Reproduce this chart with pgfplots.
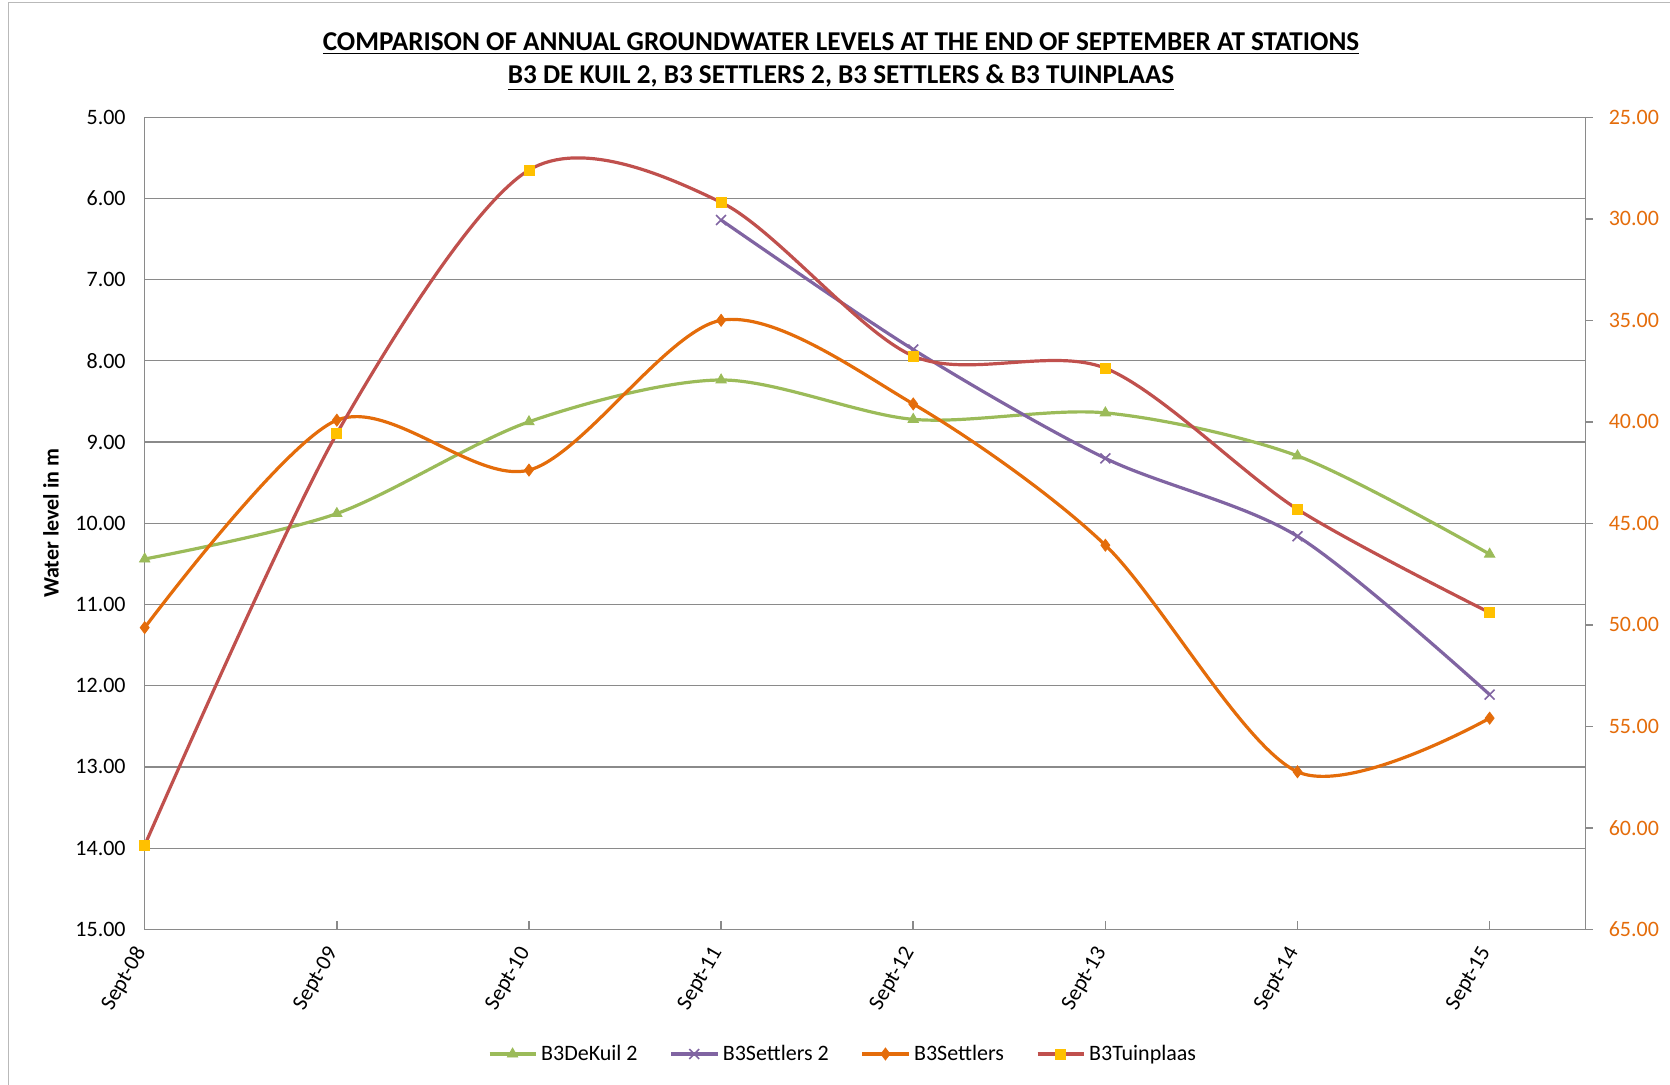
\documentclass[border=0pt]{standalone}
\usepackage{fontspec}
\setmainfont{Carlito}
\usepackage{pgfplots}
\pgfplotsset{compat=1.18}

\definecolor{cgreen}{HTML}{9BBB59}
\definecolor{cpurple}{HTML}{8064A2}
\definecolor{corange}{HTML}{E46C0A}
\definecolor{cred}{HTML}{C0504D}
\definecolor{cyellow}{HTML}{FFC000}
\definecolor{cgrid}{HTML}{8A8A8A}

\pgfplotsset{
  basestyle/.style={
    scale only axis, width=720.5pt, height=406pt,
    at={(72.35pt,77.85pt)}, anchor=south west,
    xmin=0, xmax=7.5, y dir=reverse, clip=false,
    /pgf/number format/.cd, fixed, fixed zerofill, precision=2, assume math mode=true,
    /pgfplots/.cd,
    yticklabel style={font=\fontsize{11}{13}\selectfont},
  },
  serstyle/.style={line width=1.6pt, smooth},
}

\begin{document}
\begin{tikzpicture}
\useasboundingbox (0,0) rectangle (835pt,542.5pt);
\draw[gray!55, line width=0.8pt] (4.25pt,-2pt) -- (4.25pt,541.3pt) -- (840pt,541.3pt);
\node[align=center, font=\fontsize{13.6}{16.5}\selectfont\bfseries] at (420.5pt,511.6pt)
  {\underline{COMPARISON OF ANNUAL GROUNDWATER LEVELS AT THE END OF SEPTEMBER AT STATIONS}\\
   \underline{B3 DE KUIL 2, B3 SETTLERS 2, B3 SETTLERS \& B3 TUINPLAAS}};

\begin{axis}[basestyle,
  ymin=5, ymax=15, ytick={5,6,...,15},
  ymajorgrids, grid style={cgrid, line width=0.6pt},
  axis line style={cgrid, line width=0.75pt},
  xtick={0,...,7},
  xticklabels={Sept-08,Sept-09,Sept-10,Sept-11,Sept-12,Sept-13,Sept-14,Sept-15},
  xtick pos=bottom, ytick pos=left,
  tick align=inside, major tick length=4pt,
  xtick style={cgrid, line width=0.75pt},
  ytick style={draw=none},
  xticklabel style={rotate=60, anchor=east, font=\fontsize{11}{13}\selectfont},
  xticklabel shift=7pt,
  yticklabel shift=6pt,
  ylabel={Water level in m},
  ylabel style={font=\bfseries\fontsize{11}{13}\selectfont, at={(axis description cs:-0.065,0.5)}, anchor=center, rotate=0},
  legend style={at={(0.4853,-0.1536)}, anchor=center, draw=none, fill=none,
    legend columns=4, font=\fontsize{11}{13}\selectfont,
    /tikz/every even column/.append style={column sep=14pt}},
  legend cell align=left,
  legend image code/.code={\draw[mark repeat=2,mark phase=2,#1] plot coordinates {(0pt,0pt) (11.5pt,0pt) (23pt,0pt)};},
]
\addplot[serstyle, cgreen, mark=triangle*, mark size=3pt, mark options={fill=cgreen, draw=cgreen, line width=0.4pt}]
  coordinates {(0,10.44)(1,9.88)(2,8.75)(3,8.235)(4,8.72)(5,8.64)(6,9.17)(7,10.38)};
\addlegendentry{B3DeKuil 2}
\addplot[serstyle, cpurple, mark=x, mark size=3.5pt, mark options={line width=0.8pt}]
  coordinates {(3,6.265)(4,7.86)(5,9.20)(6,10.16)(7,12.11)};
\addlegendentry{B3Settlers 2}
\addplot[serstyle, corange, mark=diamond*, mark size=3pt, mark options={fill=corange, draw=corange, line width=0.4pt}]
  coordinates {(0,11.285)(1,8.73)(2,9.345)(3,7.50)(4,8.53)(5,10.27)(6,13.06)(7,12.40)};
\addlegendentry{B3Settlers}
\addlegendimage{line width=1.6pt, cred, mark=square*, mark size=2.5pt, mark options={fill=cyellow, draw=cyellow, line width=0.4pt}}
\addlegendentry{B3Tuinplaas}
\end{axis}

\begin{axis}[basestyle,
  ymin=25, ymax=65, ytick={25,30,...,65},
  axis y line*=right, axis x line=none,
  y axis line style={cgrid, line width=0.75pt},
  ytick style={cgrid, line width=0.75pt},
  tick align=outside, major tick length=3.5pt,
  yticklabel shift=4.5pt,
  yticklabel style={text=corange},
]
\addplot[serstyle, cred, mark=square*, mark size=2.5pt, mark options={fill=cyellow, draw=cyellow, line width=0.4pt}]
  coordinates {(0,60.86)(1,40.58)(2,27.6)(3,29.19)(4,36.76)(5,37.36)(6,44.31)(7,49.4)};
\end{axis}
\end{tikzpicture}
\end{document}
